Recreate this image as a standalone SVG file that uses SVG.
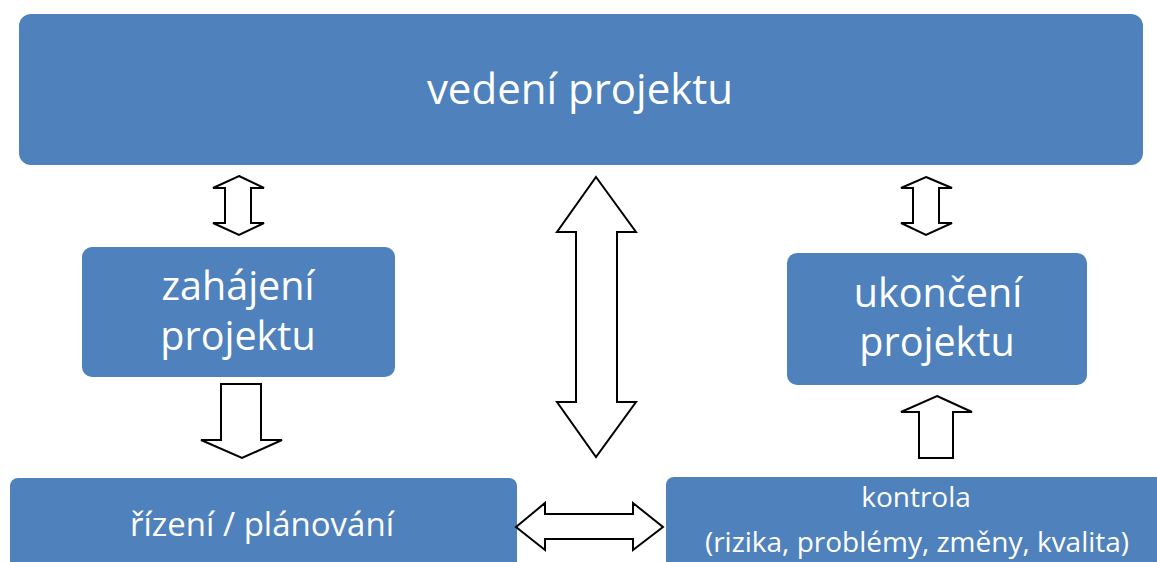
<svg xmlns="http://www.w3.org/2000/svg" width="1157" height="562" viewBox="0 0 1157 562">
  <style>
    .box { fill: #4F81BD; }
    .lbl { fill: #FFFFFF; font-family: "Open Sans", "Liberation Sans", sans-serif; text-anchor: middle; }
    .big { font-size: 42px; }
    .mid { font-size: 39.5px; }
    .plan { font-size: 33px; }
    .small { font-size: 28px; }
    .arrow { fill: #FFFFFF; stroke: #000000; stroke-width: 2; stroke-linejoin: miter; }
  </style>
  <rect width="1157" height="562" fill="#FFFFFF"/>

  <g id="vedeni-projektu">
    <rect class="box" x="19" y="14" width="1124" height="151" rx="12"/>
    <text class="lbl big" x="580" y="104">vedení projektu</text>
  </g>

  <g id="zahajeni-projektu">
    <rect class="box" x="82" y="247" width="313" height="130" rx="10"/>
    <text class="lbl mid" x="238" y="300">zahájení</text>
    <text class="lbl mid" x="238" y="350">projektu</text>
  </g>

  <g id="ukonceni-projektu">
    <rect class="box" x="787" y="253" width="300" height="132" rx="10"/>
    <text class="lbl mid" x="938" y="307">ukončení</text>
    <text class="lbl mid" x="937" y="356">projektu</text>
  </g>

  <g id="rizeni-planovani">
    <rect class="box" x="10" y="478" width="507" height="100" rx="8"/>
    <text class="lbl plan" x="262" y="536">řízení / plánování</text>
  </g>

  <g id="kontrola">
    <rect class="box" x="666" y="477" width="500" height="100" rx="8"/>
    <text class="lbl small" x="916" y="507">kontrola</text>
    <text class="lbl small" x="917" y="552">(rizika, problémy, změny, kvalita)</text>
  </g>

  <g id="connectors">
    <!-- vedení ↔ zahájení -->
    <polygon class="arrow" points="239,176 264,188 251,188 251,223 264,223 239,235 213,223 225,223 225,188 213,188"/>
    <!-- vedení ↔ ukončení -->
    <polygon class="arrow" points="926,177 952,188 939,188 939,223 952,223 926,235 901,223 913,223 913,188 901,188"/>
    <!-- vedení ↔ řízení / kontrola -->
    <polygon class="arrow" points="596,177 636,232 617,232 617,402 636,402 596,457 557,402 576,402 576,232 557,232"/>
    <!-- zahájení → řízení -->
    <polygon class="arrow" points="221,384 261,384 261,440 282,440 242,458 201,440 221,440"/>
    <!-- kontrola → ukončení -->
    <polygon class="arrow" points="937,396 972,412 953,412 953,458 919,458 919,412 901,412"/>
    <!-- řízení ↔ kontrola -->
    <polygon class="arrow" points="516,527 545,503 545,514 633,514 633,503 663,527 633,550 633,539 545,539 545,550"/>
  </g>
</svg>
